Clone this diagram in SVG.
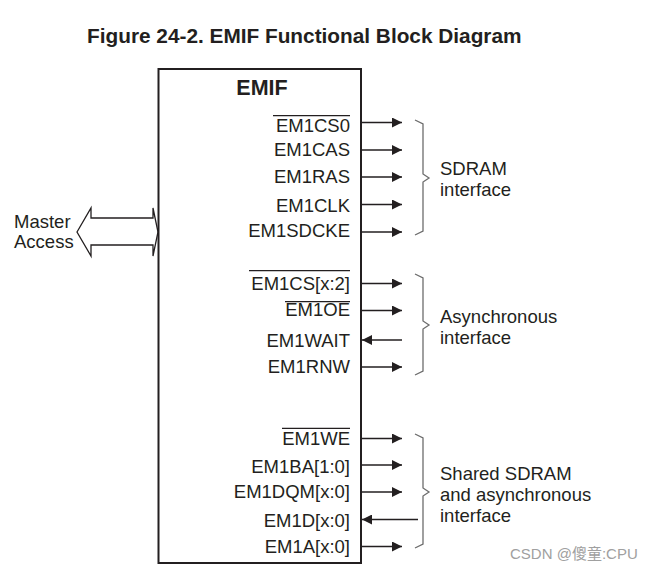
<svg xmlns="http://www.w3.org/2000/svg" width="649" height="574" viewBox="0 0 649 574">
<defs>
<style>
.t{font-family:"Liberation Sans",Arial,sans-serif;font-size:18.5px;fill:#231f20}
.r{text-anchor:end}
.b{font-weight:bold}
.w{stroke:#231f20;stroke-width:1.3;fill:none}
.ol{stroke:#231f20;stroke-width:1.2}
.br{stroke:#6d6d6d;stroke-width:1.3;fill:none}
</style>
<marker id="ah" viewBox="0 0 10 10" refX="10" refY="5" markerWidth="10" markerHeight="10" markerUnits="userSpaceOnUse" orient="auto">
<path d="M0,0 L10,5 L0,10 Z" fill="#231f20"/>
</marker>
</defs>
<rect width="649" height="574" fill="#ffffff"/>
<text class="t b" x="87" y="42.5" style="font-size:20.8px">Figure 24-2. EMIF Functional Block Diagram</text>

<g id="emif">
<rect x="158.5" y="69" width="202.5" height="494" fill="none" stroke="#231f20" stroke-width="2"/>
<text class="t b" x="262" y="95" text-anchor="middle" style="font-size:21.5px">EMIF</text>
</g>

<g id="master">
<text class="t" x="14" y="228">Master</text>
<text class="t" x="14" y="248">Access</text>
<path class="w" d="M77,232 L91,208 L91,218 L153,218 L153,208 L158,232 L153,256 L153,245 L91,245 L91,256 Z"/>
</g>

<g id="signals">
<text class="t r" x="350" y="131.5">EM1CS0</text>
<line class="ol" x1="273" y1="115.7" x2="350" y2="115.7"/>
<text class="t r" x="350" y="156">EM1CAS</text>
<text class="t r" x="350" y="183.3">EM1RAS</text>
<text class="t r" x="350" y="211.5">EM1CLK</text>
<text class="t r" x="350" y="237">EM1SDCKE</text>
<text class="t r" x="350" y="290">EM1CS[x:2]</text>
<line class="ol" x1="249" y1="270.7" x2="350" y2="270.7"/>
<text class="t r" x="350" y="316">EM1OE</text>
<line class="ol" x1="285" y1="301.7" x2="350" y2="301.7"/>
<text class="t r" x="350" y="346.7">EM1WAIT</text>
<text class="t r" x="350" y="373.3">EM1RNW</text>
<text class="t r" x="350" y="445">EM1WE</text>
<line class="ol" x1="282" y1="428.3" x2="350" y2="428.3"/>
<text class="t r" x="350" y="473.3">EM1BA[1:0]</text>
<text class="t r" x="350" y="498.3">EM1DQM[x:0]</text>
<text class="t r" x="350" y="526.7">EM1D[x:0]</text>
<text class="t r" x="350" y="553.3">EM1A[x:0]</text>
</g>

<g id="connectors">
<line class="w" x1="361" y1="122.5" x2="402" y2="122.5" marker-end="url(#ah)"/>
<line class="w" x1="361" y1="150" x2="402" y2="150" marker-end="url(#ah)"/>
<line class="w" x1="361" y1="177" x2="402" y2="177" marker-end="url(#ah)"/>
<line class="w" x1="361" y1="204.5" x2="402" y2="204.5" marker-end="url(#ah)"/>
<line class="w" x1="361" y1="232" x2="402" y2="232" marker-end="url(#ah)"/>
<line class="w" x1="361" y1="283.5" x2="402" y2="283.5" marker-end="url(#ah)"/>
<line class="w" x1="361" y1="310.5" x2="402" y2="310.5" marker-end="url(#ah)"/>
<line class="w" x1="402" y1="340" x2="362" y2="340" marker-end="url(#ah)"/>
<line class="w" x1="361" y1="367" x2="402" y2="367" marker-end="url(#ah)"/>
<line class="w" x1="361" y1="438.5" x2="402" y2="438.5" marker-end="url(#ah)"/>
<line class="w" x1="361" y1="465" x2="402" y2="465" marker-end="url(#ah)"/>
<line class="w" x1="361" y1="492" x2="402" y2="492" marker-end="url(#ah)"/>
<line class="w" x1="418" y1="519.5" x2="362" y2="519.5" marker-end="url(#ah)"/>
<line class="w" x1="361" y1="546.5" x2="402" y2="546.5" marker-end="url(#ah)"/>
</g>

<g id="sdram">
<path class="br" d="M415,120 L423,124 L423,174 L429,178 L423,182 L423,231 L415,235"/>
<text class="t" x="440" y="175">SDRAM</text>
<text class="t" x="440" y="195.5">interface</text>
</g>

<g id="async">
<path class="br" d="M415,274 L423,278 L423,321 L429,325 L423,329 L423,371 L415,375"/>
<text class="t" x="440" y="323">Asynchronous</text>
<text class="t" x="440" y="343.5">interface</text>
</g>

<g id="shared">
<path class="br" d="M415,434 L423,438 L423,488 L429,492 L423,496 L423,544 L415,548"/>
<text class="t" x="440" y="480">Shared SDRAM</text>
<text class="t" x="440" y="501">and asynchronous</text>
<text class="t" x="440" y="522">interface</text>
</g>

<text x="510" y="559" style="font-family:'Liberation Sans','Noto Sans CJK SC',sans-serif;font-size:15px;fill:#a0a0a0">CSDN @傻童:CPU</text>
</svg>
